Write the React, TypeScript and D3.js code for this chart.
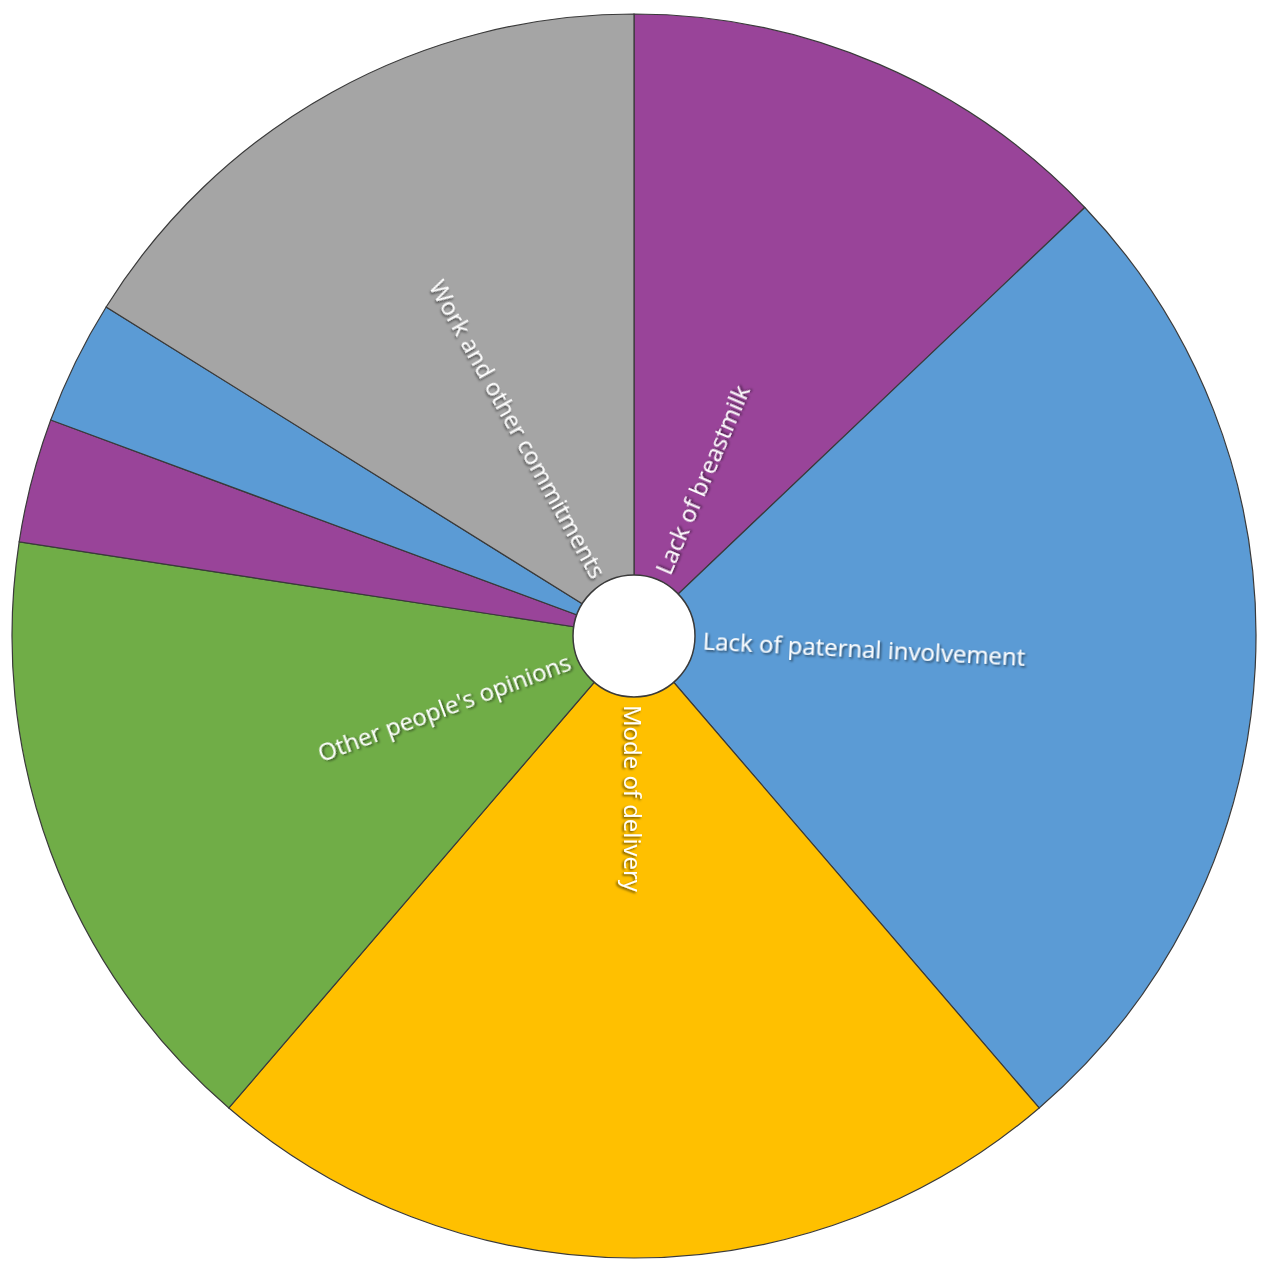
import React from 'react';
import * as d3 from 'd3';

// Slice data, clockwise from 12 o'clock
const categories = [
  'Lack of breastmilk',
  'Lack of paternal involvement',
  'Mode of delivery',
  "Other people's opinions",
  '',
  '',
  'Work and other commitments',
];
const counts = [4, 8, 7, 5, 1, 1, 5];
const colors = ['#994499', '#5B9BD5', '#FFC000', '#70AD47', '#994499', '#5B9BD5', '#A5A5A5'];

const WIDTH = 1266;
const HEIGHT = 1280;
const CX = 634;
const CY = 636;
const OUTER = 622;
const INNER = 61;

interface Slice {
  name: string;
  value: number;
  color: string;
}

const slices: Slice[] = categories.map((name, i) => ({ name, value: counts[i], color: colors[i] }));

const App: React.FC = () => {
  const pie = d3.pie<Slice>().value(d => d.value).sort(null);
  const arcs = pie(slices);
  const arc = d3.arc<d3.PieArcDatum<Slice>>().innerRadius(0).outerRadius(OUTER);

  return (
    <svg
      width={WIDTH}
      height={HEIGHT}
      style={{ position: 'absolute', left: 0, top: 0, display: 'block', background: '#fff' }}
    >
      <defs>
        <filter id="shadow" x="-10%" y="-50%" width="120%" height="200%">
          <feDropShadow dx="1.5" dy="1.5" stdDeviation="1" floodColor="#000" floodOpacity="0.6" />
        </filter>
      </defs>
      <g transform={`translate(${CX},${CY})`}>
        {arcs.map((a, i) => (
          <path key={i} d={arc(a) || ''} fill={a.data.color} stroke="#3a3a3a" strokeWidth={1.2} />
        ))}
        <circle r={INNER} fill="#fff" stroke="#3a3a3a" strokeWidth={1.5} />
        {arcs.map((a, i) => {
          if (!a.data.name) return null;
          const mid = (a.startAngle + a.endAngle) / 2;
          const deg = (mid * 180) / Math.PI;
          const right = mid < Math.PI + 1e-6;
          const r = INNER + 8;
          const x = Math.sin(mid) * r;
          const y = -Math.cos(mid) * r;
          const rot = right ? deg - 90 : deg + 90;
          return (
            <text
              key={`t${i}`}
              transform={`translate(${x},${y}) rotate(${rot})`}
              textAnchor={right ? 'start' : 'end'}
              dominantBaseline="central"
              fill="#fff"
              fontFamily="'Open Sans', sans-serif"
              fontSize={24}
              filter="url(#shadow)"
            >
              {a.data.name}
            </text>
          );
        })}
      </g>
    </svg>
  );
};

export default App;
